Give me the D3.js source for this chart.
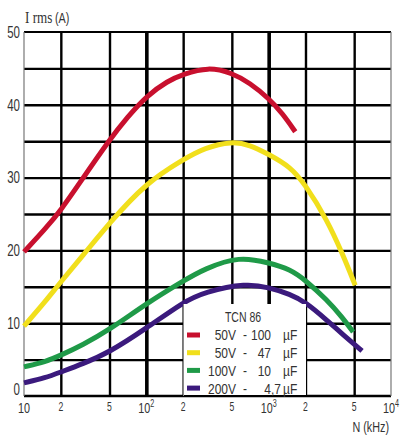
<!DOCTYPE html>
<html>
<head>
<meta charset="utf-8">
<script src="https://cdn.jsdelivr.net/npm/d3@7"></script>
<style>
  body { margin: 0; background: #fff; }
  text { font-family: "Liberation Sans", Arial, sans-serif; fill: #333; }
</style>
</head>
<body>
<svg id="chart" width="400" height="436"></svg>
<script>
// ticks
var freqGrid = [20, 50, 100, 200, 500, 1000, 2000, 5000];
var freqLabels = [[10, "10"], [20, "2"], [50, "5"], [100, "10", "2"], [200, "2"], [500, "5"], [1000, "10", "3"], [2000, "2"], [5000, "5"], [10000, "10", "4"]];
var ampGrid = [5, 10, 15, 20, 25, 30, 35, 40, 45];
var ampLabels = [0, 10, 20, 30, 40, 50];

// curves (frequency in kHz, current in A)
var redFreq = [10, 15, 20, 30, 50, 70, 100, 150, 200, 320, 500, 700, 1000, 1300, 1650];
var redAmps = [19.8, 23.0, 25.5, 29.8, 35.2, 38.3, 41.2, 43.3, 44.2, 45.2, 44.4, 43.0, 40.9, 38.8, 36.3];
var yellowFreq = [10, 15, 20, 30, 50, 100, 200, 300, 500, 700, 1000, 1500, 2000, 3000, 4000, 5100];
var yellowAmps = [9.6, 13.0, 15.7, 19.2, 23.8, 29.3, 32.5, 34.1, 35.0, 34.5, 33.2, 31.5, 29.0, 24.2, 19.6, 15.2];
var greenFreq = [10, 15, 20, 30, 50, 100, 200, 300, 580, 1000, 1500, 2000, 3000, 4000, 4900];
var greenAmps = [4.0, 4.7, 5.6, 7.0, 9.1, 12.7, 15.8, 17.5, 19.2, 18.3, 17.4, 15.9, 13.2, 10.8, 8.8];
var purpleFreq = [10, 15, 20, 30, 50, 100, 200, 300, 660, 1000, 1500, 2000, 3000, 4000, 5800];
var purpleAmps = [1.8, 2.5, 3.3, 4.4, 6.0, 9.3, 12.9, 14.3, 15.5, 14.9, 14.0, 12.9, 10.4, 8.5, 6.2];

var voltages = ["50V", "50V", "100V", "200V"];
var capacities = ["100", "47", "10", "4,7"];
var colors = ["#c8102e", "#f1df1c", "#1f9a48", "#3b1a7d"];

var series = [
  { f: redFreq, a: redAmps },
  { f: yellowFreq, a: yellowAmps },
  { f: greenFreq, a: greenAmps },
  { f: purpleFreq, a: purpleAmps }
];

var svg = d3.select("#chart");
var x = d3.scaleLog().domain([10, 10000]).range([24, 391]);
var y = d3.scaleLinear().domain([0, 50]).range([396, 32]);

// the original uses a narrow font, so squeeze the text horizontally
function narrow(px, py, k) {
  return "translate(" + px + "," + py + ") scale(" + (k || 0.72) + ",1)";
}

// grid
var gx = svg.append("g").attr("transform", "translate(0,396)")
  .call(d3.axisBottom(x).tickValues(freqGrid).tickSize(-364).tickFormat(""));
gx.select(".domain").remove();
gx.selectAll(".tick line")
  .attr("stroke", "#000")
  .attr("stroke-width", function(d) { return (d == 100 || d == 1000) ? 3.6 : 2.4; });

var gy = svg.append("g").attr("transform", "translate(24,0)")
  .call(d3.axisLeft(y).tickValues(ampGrid).tickSize(-367).tickFormat(""));
gy.select(".domain").remove();
gy.selectAll(".tick line").attr("stroke", "#000").attr("stroke-width", 2.4);

// frame
svg.append("line").attr("x1", 24).attr("x2", 391).attr("y1", y(50)).attr("y2", y(50))
  .attr("stroke", "#000").attr("stroke-width", 2);
svg.append("line").attr("x1", 24).attr("x2", 391).attr("y1", y(0)).attr("y2", y(0))
  .attr("stroke", "#000").attr("stroke-width", 2.4);
svg.append("line").attr("x1", 24).attr("x2", 24).attr("y1", y(50)).attr("y2", y(0))
  .attr("stroke", "#777").attr("stroke-width", 1.2);
svg.append("line").attr("x1", 391).attr("x2", 391).attr("y1", y(50)).attr("y2", y(0))
  .attr("stroke", "#777").attr("stroke-width", 1.2);

// curves
var line = d3.line()
  .x(function(d) { return x(d[0]); })
  .y(function(d) { return y(d[1]); })
  .curve(d3.curveBasis);

series.forEach(function(s, i) {
  svg.append("path")
    .datum(d3.zip(s.f, s.a))
    .attr("d", line)
    .attr("fill", "none")
    .attr("stroke", colors[i])
    .attr("stroke-width", 5);
});

// y labels
svg.selectAll(".ylab").data(ampLabels).enter().append("text")
  .attr("class", "ylab")
  .attr("transform", function(d) { return narrow(20, d == 0 ? y(d) - 7 : y(d)); })
  .attr("dy", "0.36em")
  .attr("text-anchor", "end")
  .attr("font-size", 16)
  .text(function(d) { return d; });

// x labels
var xl = svg.selectAll(".xlab").data(freqLabels).enter().append("text")
  .attr("class", "xlab")
  .attr("transform", function(d, i) {
    return narrow(x(d[0]), (i == 0 || d.length == 3) ? 413 : 411);
  })
  .attr("text-anchor", "middle");
xl.each(function(d, i) {
  var t = d3.select(this);
  if (d.length == 3) {
    t.append("tspan").attr("font-size", 15).text(d[1]);
    t.append("tspan").attr("font-size", 10).attr("dy", -6).text(d[2]);
  } else if (i == 0) {
    t.attr("font-size", 15).text(d[1]);
  } else {
    t.attr("font-size", 12).text(d[1]);
  }
});

// axis titles
svg.append("text").attr("transform", narrow(25, 23, 0.82))
  .style("font-family", "'Liberation Serif', 'DejaVu Serif', serif")
  .attr("font-size", 16).attr("fill", "#222").text("I rms");
svg.append("text").attr("transform", narrow(55, 23)).attr("font-size", 15).text("(A)");

svg.append("text").attr("transform", narrow(389, 432)).attr("text-anchor", "end")
  .attr("font-size", 15).text("N (kHz)");

// legend
svg.append("rect").attr("x", 183).attr("y", 304).attr("width", 123).attr("height", 91)
  .attr("fill", "#fff");
svg.append("line").attr("x1", 183.5).attr("x2", 183.5).attr("y1", 304).attr("y2", 396)
  .attr("stroke", "#888").attr("stroke-width", 1);
svg.append("text").attr("transform", narrow(243, 322, 0.75)).attr("text-anchor", "middle")
  .attr("font-size", 14).text("TCN 86");

var rows = svg.selectAll(".leg").data(voltages).enter().append("g")
  .attr("class", "leg")
  .attr("transform", function(d, i) { return "translate(0," + (335 + i * 17.7) + ")"; });
rows.append("rect").attr("x", 187).attr("y", -2.5).attr("width", 13).attr("height", 5)
  .attr("fill", function(d, i) { return colors[i]; });
rows.append("text").attr("transform", narrow(236, 0, 0.8)).attr("dy", "0.36em")
  .attr("text-anchor", "end").attr("font-size", 15).text(function(d) { return d; });
rows.append("text").attr("transform", narrow(245, 0, 0.8)).attr("dy", "0.36em")
  .attr("text-anchor", "middle").attr("font-size", 15).text("-");
rows.append("text")
  .attr("transform", function(d, i) { return narrow(i == 3 ? 281 : 271, 0, 0.8); })
  .attr("dy", "0.36em").attr("text-anchor", "end").attr("font-size", 15)
  .text(function(d, i) { return capacities[i]; });
rows.append("text").attr("transform", narrow(283, 0, 0.8)).attr("dy", "0.36em")
  .attr("font-size", 15).text("µF");
</script>
</body>
</html>
